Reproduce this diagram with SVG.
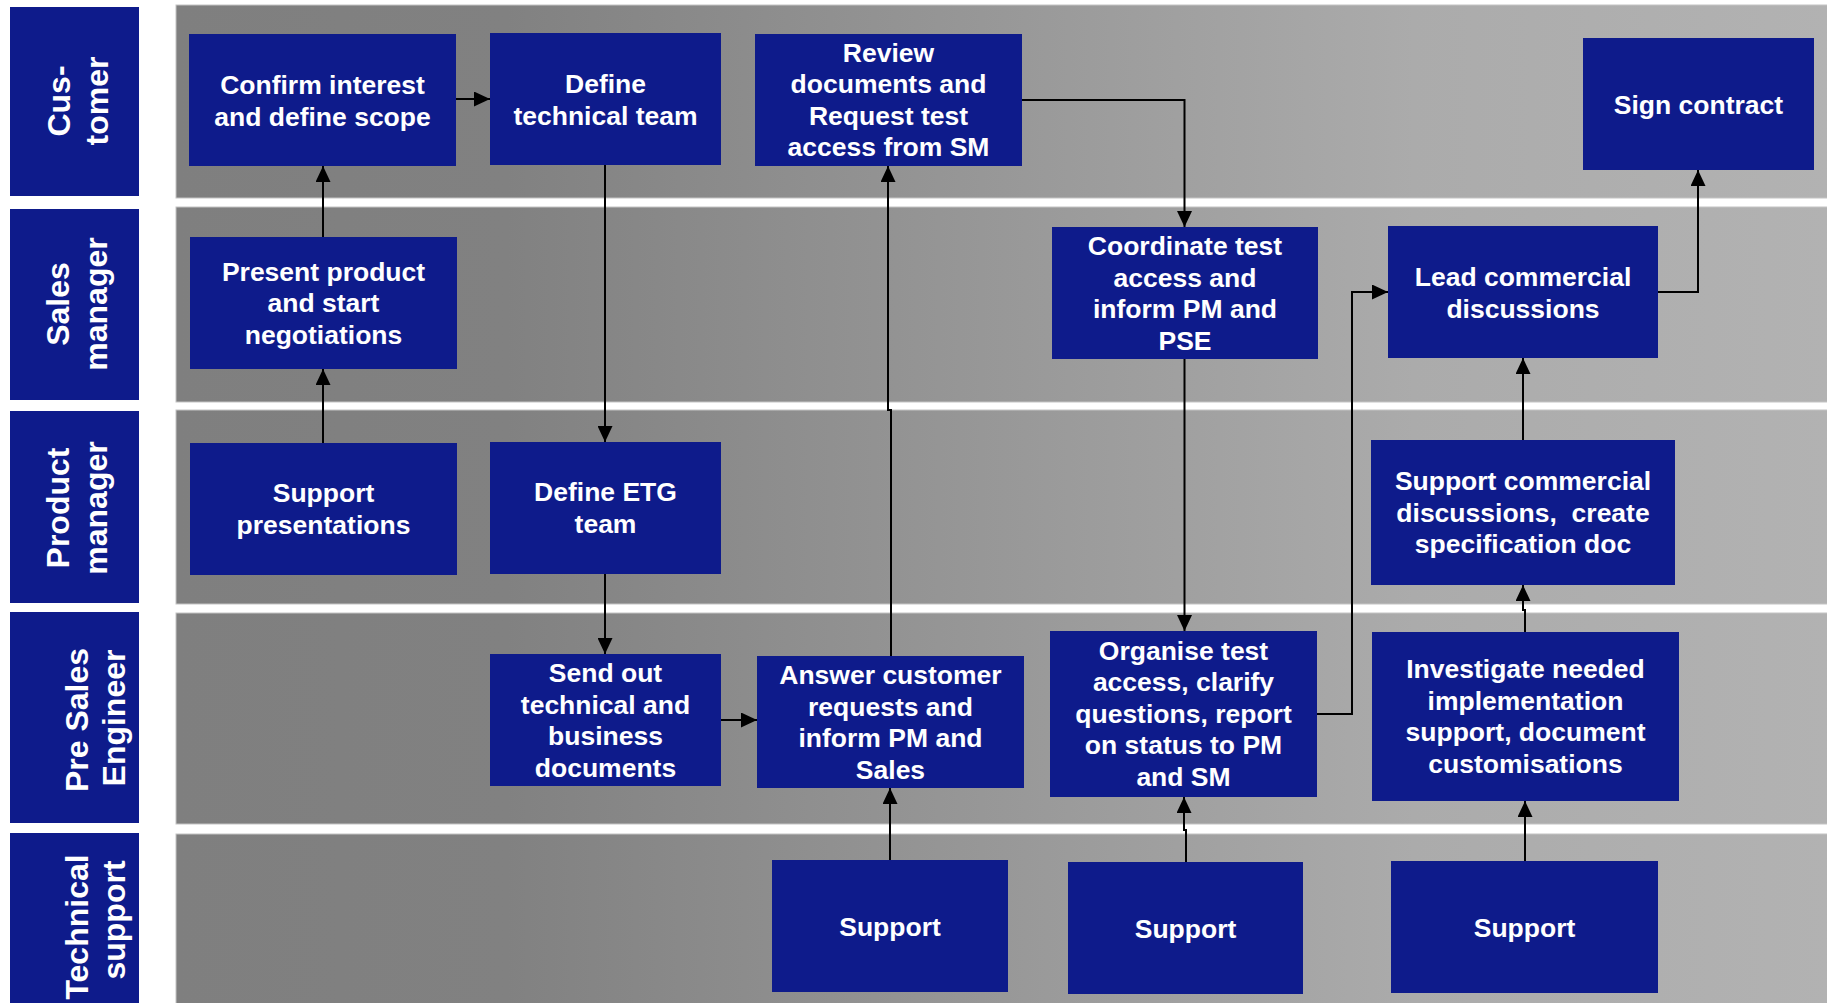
<svg xmlns="http://www.w3.org/2000/svg" width="1827" height="1003" viewBox="0 0 1827 1003">
<style>
.node{fill:#0e1b8b}
.t{font-family:"Liberation Sans",Arial,sans-serif;font-weight:bold;font-size:26.5px;fill:#fff;text-anchor:middle}
.lt{font-family:"Liberation Sans",Arial,sans-serif;font-weight:bold;font-size:32px;fill:#fff;text-anchor:middle}
.lane{fill:url(#laneGrad);stroke:#c4c4c4;stroke-width:1}
.ca{fill:none;stroke:#000;stroke-width:2;marker-end:url(#arr)}
</style>
<defs>
<linearGradient id="laneGrad" gradientUnits="userSpaceOnUse" x1="176" y1="0" x2="1827" y2="0">
<stop offset="0" stop-color="#7f7f7f"/>
<stop offset="0.2" stop-color="#818181"/>
<stop offset="0.75" stop-color="#ababab"/>
<stop offset="1" stop-color="#b2b2b2"/>
</linearGradient>
<marker id="arr" markerUnits="userSpaceOnUse" markerWidth="16" markerHeight="15" refX="16" refY="7.5" orient="auto">
<path d="M0,0 L16,7.5 L0,15 z" fill="#000"/>
</marker>
</defs>
<rect width="1827" height="1003" fill="#fff"/>
<g id="lanes">
<rect class="lane" x="176" y="5" width="1660" height="193"/>
<rect class="lane" x="176" y="207" width="1660" height="195"/>
<rect class="lane" x="176" y="410" width="1660" height="194"/>
<rect class="lane" x="176" y="613" width="1660" height="211"/>
<rect class="lane" x="176" y="834" width="1660" height="190"/>
</g>
<g id="lane-labels">
<g id="label-customer"><rect class="node" x="10" y="7" width="129" height="189"/>
<text class="lt" transform="translate(70,101) rotate(-90)">Cus-</text>
<text class="lt" transform="translate(108,101) rotate(-90)">tomer</text></g>
<g id="label-sales"><rect class="node" x="10" y="209" width="129" height="191"/>
<text class="lt" transform="translate(69,304) rotate(-90)">Sales</text>
<text class="lt" transform="translate(107,304) rotate(-90)">manager</text></g>
<g id="label-product"><rect class="node" x="10" y="411" width="129" height="192"/>
<text class="lt" transform="translate(69,508) rotate(-90)">Product</text>
<text class="lt" transform="translate(107,508) rotate(-90)">manager</text></g>
<g id="label-presales"><rect class="node" x="10" y="612" width="129" height="211"/>
<text class="lt" transform="translate(88,720) rotate(-90)">Pre Sales</text>
<text class="lt" transform="translate(125,718) rotate(-90)">Engineer</text></g>
<g id="label-tech"><rect class="node" x="10" y="833" width="129" height="190"/>
<text class="lt" transform="translate(88,927) rotate(-90)">Technical</text>
<text class="lt" transform="translate(125,920) rotate(-90)">support</text></g>
</g>
<g id="connectors">
<path class="ca" d="M456,99 H490"/>
<path class="ca" d="M323,237 V166"/>
<path class="ca" d="M323,443 V369"/>
<path class="ca" d="M605,165 V442"/>
<path class="ca" d="M605,574 V654"/>
<path class="ca" d="M721,720 H757"/>
<path class="ca" d="M891,656 V410 H888 V166"/>
<path class="ca" d="M1022,100 H1184.5 V227"/>
<path class="ca" d="M1184.5,359 V631"/>
<path class="ca" d="M1317,714 H1352 V292 H1388"/>
<path class="ca" d="M1658,292 H1698 V170"/>
<path class="ca" d="M1523,440 V358"/>
<path class="ca" d="M1525,632 V610 H1523 V585"/>
<path class="ca" d="M1525,861 V801"/>
<path class="ca" d="M890,860 V788"/>
<path class="ca" d="M1186,862 V830 H1184 V797"/>
</g>
<g id="n-confirm"><rect class="node" x="189" y="34" width="267" height="132"/>
<text class="t" x="322.5" y="94">Confirm interest</text><text class="t" x="322.5" y="126">and define scope</text></g>
<g id="n-define-tech"><rect class="node" x="490" y="33" width="231" height="132"/>
<text class="t" x="605.5" y="93">Define</text><text class="t" x="605.5" y="124.5">technical team</text></g>
<g id="n-review"><rect class="node" x="755" y="34" width="267" height="132"/>
<text class="t" x="888.5" y="61.5">Review</text><text class="t" x="888.5" y="93">documents and</text><text class="t" x="888.5" y="124.5">Request test</text><text class="t" x="888.5" y="156">access from SM</text></g>
<g id="n-sign"><rect class="node" x="1583" y="38" width="231" height="132"/>
<text class="t" x="1698.5" y="113.5">Sign contract</text></g>
<g id="n-present"><rect class="node" x="190" y="237" width="267" height="132"/>
<text class="t" x="323.5" y="280.5">Present product</text><text class="t" x="323.5" y="312">and start</text><text class="t" x="323.5" y="343.5">negotiations</text></g>
<g id="n-coordinate"><rect class="node" x="1052" y="227" width="266" height="132"/>
<text class="t" x="1185" y="255">Coordinate test</text><text class="t" x="1185" y="286.5">access and</text><text class="t" x="1185" y="318">inform PM and</text><text class="t" x="1185" y="349.5">PSE</text></g>
<g id="n-lead"><rect class="node" x="1388" y="226" width="270" height="132"/>
<text class="t" x="1523" y="286">Lead commercial</text><text class="t" x="1523" y="317.5">discussions</text></g>
<g id="n-support-pres"><rect class="node" x="190" y="443" width="267" height="132"/>
<text class="t" x="323.5" y="502">Support</text><text class="t" x="323.5" y="533.5">presentations</text></g>
<g id="n-define-etg"><rect class="node" x="490" y="442" width="231" height="132"/>
<text class="t" x="605.5" y="501">Define ETG</text><text class="t" x="605.5" y="532.5">team</text></g>
<g id="n-support-comm"><rect class="node" x="1371" y="440" width="304" height="145"/>
<text class="t" x="1523" y="490">Support commercial</text><text class="t" x="1523" y="521.5" xml:space="preserve">discussions,  create</text><text class="t" x="1523" y="553">specification doc</text></g>
<g id="n-send"><rect class="node" x="490" y="654" width="231" height="132"/>
<text class="t" x="605.5" y="682">Send out</text><text class="t" x="605.5" y="713.5">technical and</text><text class="t" x="605.5" y="745">business</text><text class="t" x="605.5" y="776.5">documents</text></g>
<g id="n-answer"><rect class="node" x="757" y="656" width="267" height="132"/>
<text class="t" x="890.5" y="684">Answer customer</text><text class="t" x="890.5" y="715.5">requests and</text><text class="t" x="890.5" y="747">inform PM and</text><text class="t" x="890.5" y="778.5">Sales</text></g>
<g id="n-organise"><rect class="node" x="1050" y="631" width="267" height="166"/>
<text class="t" x="1183.5" y="659.5">Organise test</text><text class="t" x="1183.5" y="691">access, clarify</text><text class="t" x="1183.5" y="722.5">questions, report</text><text class="t" x="1183.5" y="754">on status to PM</text><text class="t" x="1183.5" y="785.5">and SM</text></g>
<g id="n-investigate"><rect class="node" x="1372" y="632" width="307" height="169"/>
<text class="t" x="1525.5" y="678">Investigate needed</text><text class="t" x="1525.5" y="709.5">implementation</text><text class="t" x="1525.5" y="741">support, document</text><text class="t" x="1525.5" y="772.5">customisations</text></g>
<g id="n-support1"><rect class="node" x="772" y="860" width="236" height="132"/>
<text class="t" x="890" y="935.5">Support</text></g>
<g id="n-support2"><rect class="node" x="1068" y="862" width="235" height="132"/>
<text class="t" x="1185.5" y="937.5">Support</text></g>
<g id="n-support3"><rect class="node" x="1391" y="861" width="267" height="132"/>
<text class="t" x="1524.5" y="936.5">Support</text></g>
</svg>
